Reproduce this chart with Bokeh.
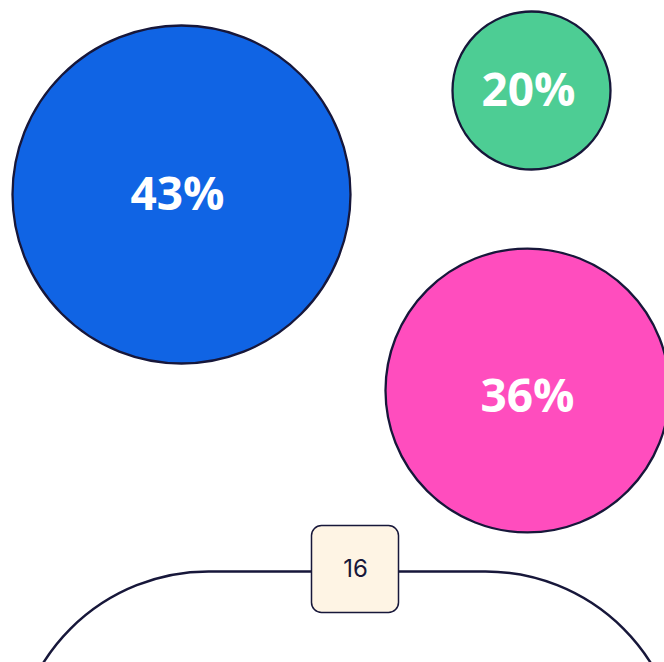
from bokeh.plotting import figure
from bokeh.models import Range1d
from bokeh.embed import file_html
from bokeh.resources import INLINE
from bokeh.core.properties import value

# data
labels = ["43%", "20%", "36%"]
shares = [43, 20, 36]
colors = ["#1064E4", "#4DCD94", "#FF4DBE"]
count_label = ["16"]

# layout (pixel-like units)
cx = [181, 531, 527]
cy = [468, 572, 272]
radii = [169, 79, 142]
tx = [177, 528, 527]
ty = [471, 575, 269]

W, H = 664, 662
p = figure(width=W, height=H, x_range=Range1d(0, W), y_range=Range1d(0, H),
           output_backend="svg", toolbar_location=None, min_border=0)
p.axis.visible = False
p.grid.visible = False
p.outline_line_color = None
p.background_fill_color = "white"

navy = "#17173A"

p.circle(x=cx, y=cy, radius=radii, fill_color=colors, line_color=navy, line_width=2.3)
p.text(x=tx, y=ty, text=labels, text_color="white", text_font=value("Open Sans"),
       text_font_style="bold", text_font_size="46px", text_align="center",
       text_baseline="middle")

# container outline
p.quad(left=[13], right=[680], top=[91], bottom=[-600], fill_color=None,
       line_color=navy, line_width=2.5, border_radius=195)
# count badge
p.quad(left=[311], right=[398], top=[137], bottom=[50], fill_color="#FEF4E4",
       line_color=navy, line_width=1.5, border_radius=10)
p.text(x=[355], y=[95], text=count_label, text_color=navy, text_font=value("Inter"),
       text_font_size="24px", text_align="center", text_baseline="middle")

open("out.html", "w").write(file_html(p, INLINE))
